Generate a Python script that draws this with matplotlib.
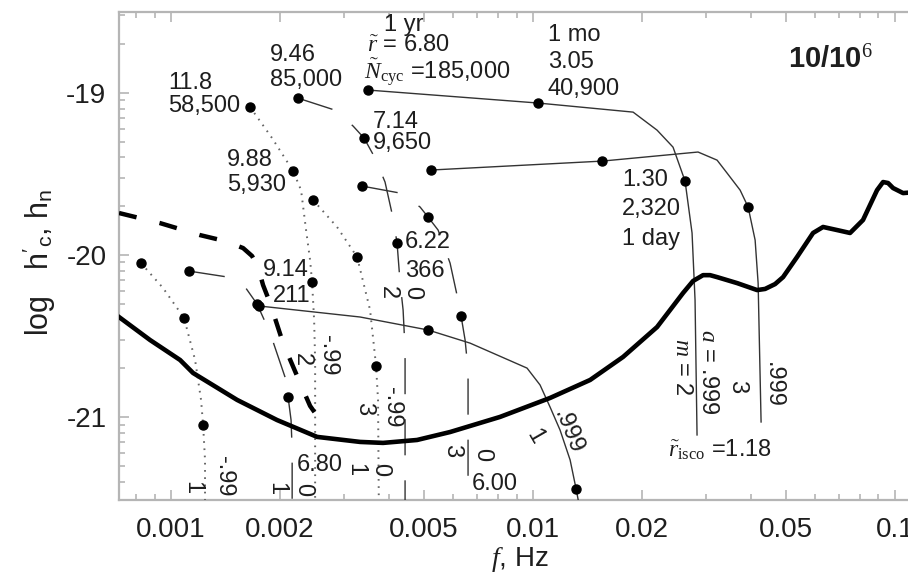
import matplotlib

matplotlib.use("Agg")
import matplotlib.pyplot as plt
import numpy as np
from matplotlib.ticker import FixedLocator, LogLocator, NullFormatter

plt.rcParams.update({
    "font.family": ["Liberation Sans", "DejaVu Sans"],
    "mathtext.fontset": "custom",
    "mathtext.rm": "Liberation Serif",
    "mathtext.it": "Liberation Serif:italic",
    "mathtext.sf": "Liberation Sans",
    "mathtext.bf": "Liberation Sans:bold",
    "lines.scale_dashes": False,
})

FIG_W, FIG_H = 908, 580

# noise curve h_n (thick solid)
noise_f = [0.000718, 0.000875, 0.001059, 0.001150, 0.001522, 0.001962, 0.002532, 0.003328,
           0.003851, 0.004782, 0.005899, 0.008102, 0.011142, 0.014378, 0.017730, 0.022003,
           0.023904, 0.025963, 0.027668, 0.029484, 0.030832, 0.032236, 0.036620, 0.041590,
           0.043750, 0.046618, 0.049054, 0.053617, 0.059361, 0.063263, 0.069152, 0.075114,
           0.081566, 0.085280, 0.089186, 0.092658, 0.095651, 0.098744, 0.10522, 0.1172]
noise_h = [-20.382, -20.524, -20.647, -20.727, -20.893, -21.017, -21.121, -21.152,
           -21.158, -21.140, -21.091, -20.998, -20.881, -20.770, -20.628, -20.444,
           -20.339, -20.234, -20.160, -20.124, -20.124, -20.136, -20.173, -20.216,
           -20.209, -20.179, -20.136, -20.012, -19.864, -19.827, -19.846, -19.864,
           -19.784, -19.692, -19.600, -19.550, -19.556, -19.587, -19.618, -19.61]

# thick dashed curve
confusion_f = [0.000718, 0.000932, 0.001202, 0.001410, 0.001581, 0.001674, 0.001739,
               0.001795, 0.001877, 0.002039, 0.002272, 0.002421, 0.002613]
confusion_h = [-19.741, -19.803, -19.877, -19.914, -19.957, -20.006, -20.074,
               -20.185, -20.296, -20.543, -20.789, -20.93, -21.035]

# a = -0.99 tracks, harmonics m = 1, 2, 3
retro_m1_f = [0.000826, 0.000950, 0.001086, 0.001165, 0.001210, 0.001226, 0.001241, 0.001241]
retro_m1_h = [-20.050, -20.203, -20.388, -20.647, -20.893, -21.048, -21.263, -21.70]
retro_m2_f = [0.001653, 0.001901, 0.002173, 0.002286, 0.002360, 0.002421, 0.002452, 0.002484,
              0.002500, 0.002500]
retro_m2_h = [-19.088, -19.279, -19.482, -19.600, -19.846, -20.031, -20.166, -20.400,
              -20.65, -21.70]
retro_m3_f = [0.002468, 0.002874, 0.003265, 0.003546, 0.003684, 0.003730, 0.003754]
retro_m3_h = [-19.661, -19.827, -20.012, -20.339, -20.684, -20.893, -21.70]

# a = 0 tracks
schw_m1_f = [0.001121, 0.001437, 0.001601, 0.001728, 0.001877, 0.002091, 0.002105, 0.002145,
             0.002160, 0.002160]
schw_m1_h = [-20.099, -20.136, -20.197, -20.302, -20.480, -20.789, -20.875, -21.017,
             -21.20, -21.70]
schw_m2_f = [0.002243, 0.002838, 0.003183, 0.003413, 0.003660, 0.003900, 0.004104, 0.004210,
             0.004291, 0.004375, 0.004430, 0.004430]
schw_m2_h = [-19.033, -19.107, -19.205, -19.279, -19.402, -19.550, -19.772, -19.926,
             -20.166, -20.339, -20.585, -21.70]
schw_m3_f = [0.003371, 0.004291, 0.004874, 0.005128, 0.005466, 0.005899, 0.006206, 0.006326,
             0.006490, 0.006613, 0.006613]
schw_m3_h = [-19.575, -19.618, -19.704, -19.766, -19.846, -20.050, -20.277, -20.376,
             -20.524, -20.709, -21.70]

# a = 0.999 tracks
pro_m1_f = [0.001750, 0.003328, 0.005128, 0.006699, 0.009625, 0.010455, 0.011142, 0.011874,
            0.012657, 0.013150, 0.013405]
pro_m1_h = [-20.314, -20.382, -20.462, -20.543, -20.697, -20.801, -20.937, -21.079,
            -21.263, -21.442, -21.540]
pro_m2_f = [0.003502, 0.010323, 0.018895, 0.022003, 0.024361, 0.026296, 0.027492, 0.028021,
            0.028379]
pro_m2_h = [-18.983, -19.063, -19.119, -19.230, -19.335, -19.544, -19.864, -20.277, -21.109]
pro_m3_f = [0.005227, 0.015506, 0.028560, 0.032236, 0.034358, 0.037327, 0.039274, 0.041064,
            0.041854, 0.042121, 0.042650]
pro_m3_h = [-19.476, -19.421, -19.365, -19.415, -19.495, -19.600, -19.704, -19.908,
            -20.173, -20.462, -21.029]

# 1 yr / 1 mo / 1 day markers
retro_dot_f = [0.000826, 0.001086, 0.001226, 0.001653, 0.002173, 0.002452, 0.002468, 0.003265, 0.003684]
retro_dot_h = [-20.050, -20.388, -21.048, -19.088, -19.482, -20.166, -19.661, -20.012, -20.684]
schw_dot_f = [0.001121, 0.001728, 0.002105, 0.002243, 0.003413, 0.004210, 0.003371, 0.005128, 0.006326]
schw_dot_h = [-20.099, -20.302, -20.875, -19.033, -19.279, -19.926, -19.575, -19.766, -20.376]
pro_dot_f = [0.001750, 0.005128, 0.013150, 0.003502, 0.010323, 0.026296, 0.005227, 0.015506, 0.039274]
pro_dot_h = [-20.314, -20.462, -21.442, -18.983, -19.063, -19.544, -19.476, -19.421, -19.704]

XTICKS = [0.001, 0.002, 0.005, 0.01, 0.02, 0.05, 0.1]
XTICK_LABELS = ["0.001", "0.002", "0.005", "0.01", "0.02", "0.05", "0.1"]
YTICKS = [-21, -20, -19]
YTICK_LABELS = ["-21", "-20", "-19"]

TRACKS = [
    (retro_m1_f, retro_m1_h, "retro"), (retro_m2_f, retro_m2_h, "retro"), (retro_m3_f, retro_m3_h, "retro"),
    (schw_m1_f, schw_m1_h, "schw"), (schw_m2_f, schw_m2_h, "schw"), (schw_m3_f, schw_m3_h, "schw"),
    (pro_m1_f, pro_m1_h, "pro"), (pro_m2_f, pro_m2_h, "pro"), (pro_m3_f, pro_m3_h, "pro"),
]
STYLES = {
    "retro": dict(color="#666666", lw=1.4, ls=(0, (1.2, 4.0))),
    "schw": dict(color="#333333", lw=1.0, ls=(0, (26, 18))),
    "pro": dict(color="#333333", lw=1.0, ls="-"),
}
SPINE = "#b5b5b5"
TEXT = "#1e1e1e"

# (px, py, text, ha, rotation) in figure pixels from top-left
LABELS = [
    (404, 25, "1 yr", "center", 0),
    (409, 45, r"$\tilde{r}$ = 6.80", "center", 0),
    (437, 73, r"$\tilde{N}_{\rm cyc}$ =185,000", "center", 0),
    (548, 35, "1 mo", "left", 0),
    (548, 62, "3.05", "left", 0),
    (548, 89, "40,900", "left", 0),
    (622, 180, "1.30", "left", 0),
    (622, 209, "2,320", "left", 0),
    (622, 239, "1 day", "left", 0),
    (373, 122, "7.14", "left", 0),
    (373, 143, "9,650", "left", 0),
    (405, 242, "6.22", "left", 0),
    (405, 271, "366", "left", 0),
    (270, 55, "9.46", "left", 0),
    (270, 80, "85,000", "left", 0),
    (168, 83, "11.8", "left", 0),
    (168, 106, "58,500", "left", 0),
    (227, 160, "9.88", "left", 0),
    (227, 185, "5,930", "left", 0),
    (263, 270, "9.14", "left", 0),
    (273, 296, "211", "left", 0),
    (297, 465, "6.80", "left", 0),
    (472, 484, "6.00", "left", 0),
    (668, 450, r"$\tilde{r}_{\rm isco}$ =1.18", "left", 0),
    (192, 488, "1", "center", 270),
    (224, 476, "-.99", "center", 270),
    (276, 489, "1", "center", 270),
    (303, 490, "0", "center", 270),
    (302, 360, "2", "center", 270),
    (328, 355, "-.99", "center", 270),
    (388, 293, "2", "center", 270),
    (412, 293, "0", "center", 270),
    (364, 409, "3", "center", 270),
    (392, 407, "-.99", "center", 270),
    (355, 470, "1", "center", 270),
    (380, 470, "0", "center", 270),
    (452, 451, "3", "center", 270),
    (482, 455, "0", "center", 270),
    (535, 437, "1", "center", 300),
    (568, 432, ".999", "center", 292),
    (682, 367, r"$m$ = 2", "center", 270),
    (708, 372, r"$a$ = .999", "center", 270),
    (737, 387, "3", "center", 270),
    (773, 385, ".999", "center", 270),
]


def at(px, py):
    return px / FIG_W, 1 - py / FIG_H


fig = plt.figure(figsize=(FIG_W / 100, FIG_H / 100), dpi=100)
ax = fig.add_axes([119 / FIG_W, 80 / FIG_H, 801 / FIG_W, 488.3 / FIG_H])

ax.plot(noise_f, noise_h, color="black", lw=3.3, solid_joinstyle="round", zorder=4)
ax.plot(confusion_f, confusion_h, color="black", lw=3.2, ls=(0, (13, 17)), zorder=4)
for f, h, kind in TRACKS:
    ax.plot(f, h, zorder=3, **STYLES[kind])
for f, h in [(retro_dot_f, retro_dot_h), (schw_dot_f, schw_dot_h), (pro_dot_f, pro_dot_h)]:
    ax.plot(f, h, "o", color="black", ms=6.5, zorder=5)

ax.set_xscale("log")
ax.set_xlim(0.000718, 0.1172)
ax.set_ylim(-21.51, -18.5)
ax.set_xticks(XTICKS)
ax.set_xticklabels(XTICK_LABELS)
ax.xaxis.set_minor_locator(LogLocator(base=10, subs=np.arange(2, 10)))
ax.xaxis.set_minor_formatter(NullFormatter())
ax.set_yticks(YTICKS)
ax.set_yticklabels(YTICK_LABELS)
ax.yaxis.set_minor_locator(FixedLocator([d + np.log10(k) for d in range(-22, -18) for k in range(2, 10)]))
ax.tick_params(which="both", direction="in", top=True, right=False, color=SPINE, width=1.2,
               labelsize=20, labelcolor=TEXT)
ax.tick_params(which="major", length=7)
ax.tick_params(which="minor", length=4)
ax.tick_params(axis="x", which="major", pad=12)
ax.tick_params(axis="y", which="major", pad=9)
for side in ("left", "bottom", "top"):
    ax.spines[side].set_color(SPINE)
    ax.spines[side].set_linewidth(1.6)
ax.spines["right"].set_visible(False)

for px, py, s, ha, rot in LABELS:
    fig.text(*at(px, py), s, ha=ha, va="center", rotation=rot, fontsize=17, color=TEXT)

fig.text(*at(788, 60), r"10/10$^{6}$", ha="left", va="center", fontsize=21,
         fontweight="bold", color=TEXT)
fig.text(*at(520, 560), r"$f$, Hz", ha="center", va="center", fontsize=20, color=TEXT)
fig.text(*at(40, 262), r"log   $\mathsf{h}'_\mathsf{c}$, $\mathsf{h}_\mathsf{n}$", ha="center",
         va="center", rotation=90, fontsize=22, color=TEXT)

fig.savefig("out.png", dpi=100)
